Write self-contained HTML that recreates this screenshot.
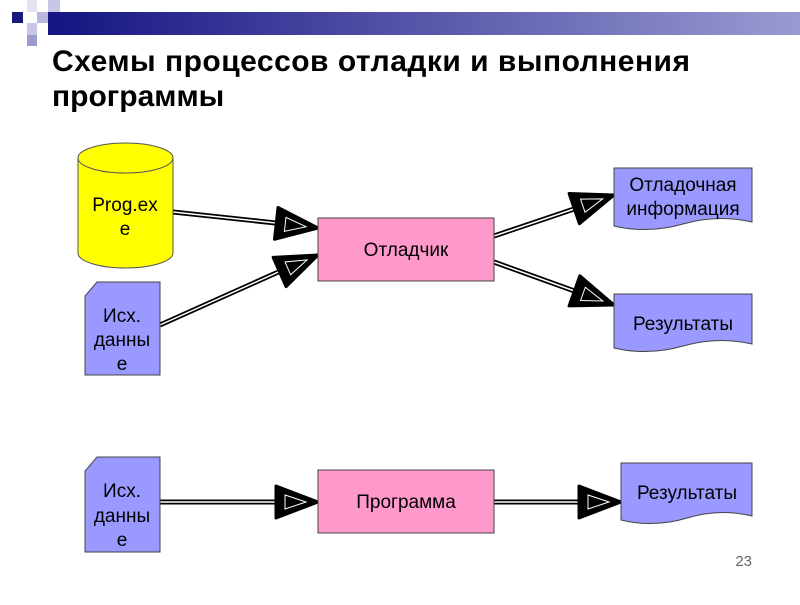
<!DOCTYPE html>
<html><head><meta charset="utf-8"><style>
body{margin:0;width:800px;height:600px;overflow:hidden;background:#fff}
text{font-family:"Liberation Sans",Arial,sans-serif}
</style></head><body>
<svg width="800" height="600" viewBox="0 0 800 600" xmlns="http://www.w3.org/2000/svg">
<defs>
<linearGradient id="bar" x1="0" x2="1" y1="0" y2="0">
<stop offset="0" stop-color="#141482"/><stop offset="1" stop-color="#9a9ad2"/>
</linearGradient>
<g id="ah"><polygon points="0,0 -42,-16 -42,16" fill="#000" stroke="#000" stroke-width="3" stroke-linejoin="round"/><polygon points="-12,0 -33,-7 -33,7" fill="none" stroke="#fff" stroke-width="1"/></g>
</defs>
<rect x="48" y="12" width="752" height="23" fill="url(#bar)"/>
<rect x="12" y="12" width="11" height="11" fill="#1a1a7e"/>
<rect x="37" y="12" width="11" height="11" fill="#b8b8de"/>
<rect x="48" y="0" width="12" height="12" fill="#c8c8e6"/>
<rect x="27" y="0" width="10" height="12" fill="#e4e4f0"/>
<rect x="27" y="23" width="10" height="12" fill="#c8c8e6"/>
<rect x="27" y="35" width="10" height="11" fill="#9a9ace"/>
<text x="52" y="71" font-size="30" font-weight="bold" fill="#000" textLength="638">Схемы процессов отладки и выполнения</text>
<text x="52" y="106" font-size="30" font-weight="bold" fill="#000">программы</text>

<g stroke-linecap="butt">
<line x1="173" y1="212" x2="285" y2="224" stroke="#000" stroke-width="5"/><line x1="173" y1="212" x2="285" y2="224" stroke="#fff" stroke-width="1.5"/>
<line x1="160" y1="325" x2="285" y2="269" stroke="#000" stroke-width="5"/><line x1="160" y1="325" x2="285" y2="269" stroke="#fff" stroke-width="1.5"/>
<line x1="494" y1="236" x2="580" y2="207" stroke="#000" stroke-width="5"/><line x1="494" y1="236" x2="580" y2="207" stroke="#fff" stroke-width="1.5"/>
<line x1="494" y1="262" x2="580" y2="293" stroke="#000" stroke-width="5"/><line x1="494" y1="262" x2="580" y2="293" stroke="#fff" stroke-width="1.5"/>
<line x1="160" y1="502" x2="285" y2="502" stroke="#000" stroke-width="5"/><line x1="160" y1="502" x2="285" y2="502" stroke="#fff" stroke-width="1.5"/>
<line x1="494" y1="502" x2="590" y2="502" stroke="#000" stroke-width="5"/><line x1="494" y1="502" x2="590" y2="502" stroke="#fff" stroke-width="1.5"/>
</g>
<use href="#ah" transform="translate(318,228) rotate(6.3)"/>
<use href="#ah" transform="translate(318,255) rotate(-23.9)"/>
<use href="#ah" transform="translate(614,195) rotate(-18.9)"/>
<use href="#ah" transform="translate(614,305) rotate(19.7)"/>
<use href="#ah" transform="translate(318,502)"/>
<use href="#ah" transform="translate(621,502)"/>

<path d="M78,158 L78,253 A47.5,15 0 0 0 173,253 L173,158" fill="#ffff00" stroke="#555" stroke-width="1"/>
<ellipse cx="125.5" cy="158" rx="47.5" ry="15" fill="#ffff00" stroke="#555" stroke-width="1"/>
<text x="125" y="211" font-size="19" text-anchor="middle">Prog.ex</text>
<text x="125" y="235" font-size="19" text-anchor="middle">e</text>

<polygon points="97,282 160,282 160,375 85,375 85,296" fill="#9999ff" stroke="#444"/>
<text x="122" y="322" font-size="19" text-anchor="middle">Исх.</text>
<text x="122" y="346" font-size="19" text-anchor="middle">данны</text>
<text x="122" y="370" font-size="19" text-anchor="middle">е</text>

<rect x="318" y="218" width="176" height="63" fill="#ff99cc" stroke="#444"/>
<text x="406" y="256" font-size="19" text-anchor="middle">Отладчик</text>

<path d="M614,168 L752,168 L752,222 Q718,214 683,224 Q648,234 614,226 Z" fill="#9999ff" stroke="#444"/>
<text x="683" y="191" font-size="19" text-anchor="middle">Отладочная</text>
<text x="683" y="215" font-size="19" text-anchor="middle">информация</text>

<path d="M614,294 L752,294 L752,344 Q718,336 683,346 Q648,356 614,348 Z" fill="#9999ff" stroke="#444"/>
<text x="683" y="330" font-size="19" text-anchor="middle">Результаты</text>

<polygon points="97,457 160,457 160,552 85,552 85,471" fill="#9999ff" stroke="#444"/>
<text x="122" y="497" font-size="19" text-anchor="middle">Исх.</text>
<text x="122" y="522" font-size="19" text-anchor="middle">данны</text>
<text x="122" y="546" font-size="19" text-anchor="middle">е</text>

<rect x="318" y="470" width="176" height="63" fill="#ff99cc" stroke="#444"/>
<text x="406" y="508" font-size="19" text-anchor="middle">Программа</text>

<path d="M621,463 L752,463 L752,516 Q720,508 687,518 Q654,528 621,520 Z" fill="#9999ff" stroke="#444"/>
<text x="687" y="499" font-size="19" text-anchor="middle">Результаты</text>

<text x="752" y="566" font-size="15" fill="#666" text-anchor="end">23</text>
</svg>
</body></html>
